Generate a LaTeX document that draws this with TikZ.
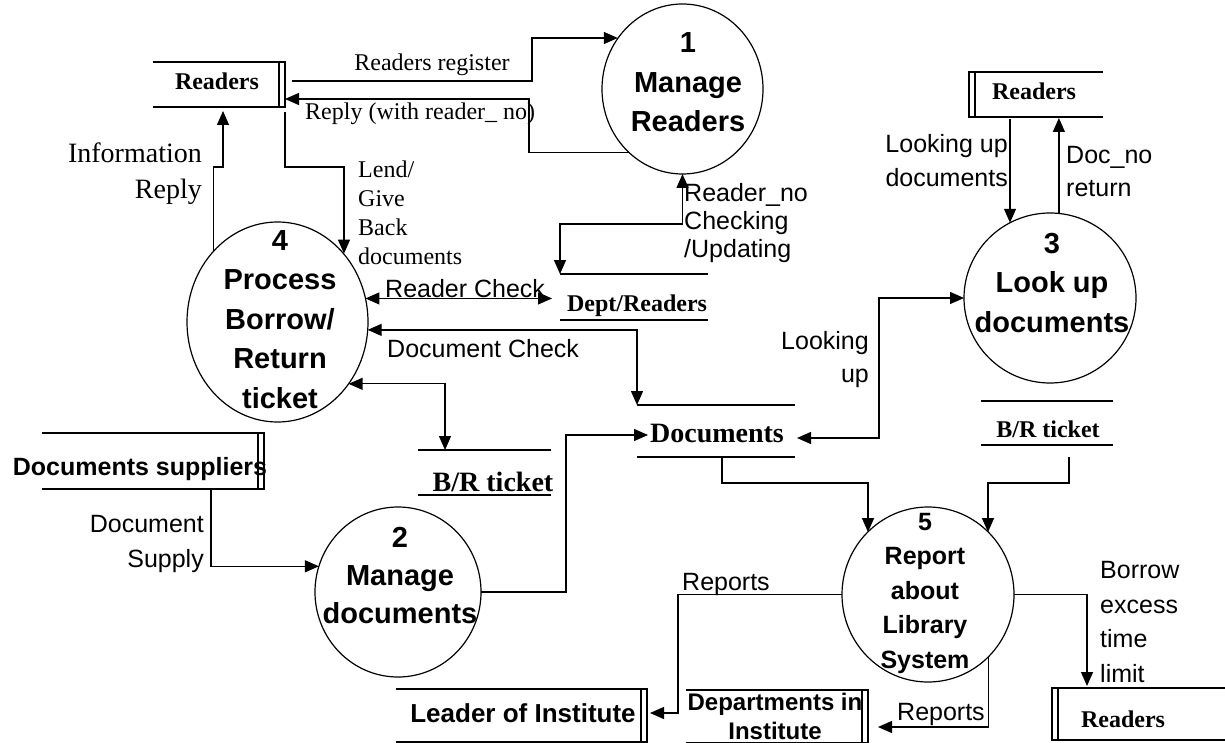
\documentclass[tikz,border=0pt]{standalone}
\usepackage{fontspec}
\setmainfont{Liberation Serif}
\setsansfont{Liberation Sans}
\usetikzlibrary{arrows.meta,shapes.geometric}

% data stores: open boxes with a double bar on one side
\newcommand\storeRbar[1]{%
  \draw[flow] (#1.north west) -- (#1.north east) -- (#1.south east) -- (#1.south west);
  \draw[flow] ([xshift=-6pt]#1.north east) -- ([xshift=-6pt]#1.south east);}
\newcommand\storeLbar[1]{%
  \draw[flow] (#1.north east) -- (#1.north west) -- (#1.south west) -- (#1.south east);
  \draw[flow] ([xshift=6pt]#1.north west) -- ([xshift=6pt]#1.south west);}
\newcommand\storeOpen[1]{%
  \draw[flow] (#1.north west) -- (#1.north east) (#1.south west) -- (#1.south east);}

\tikzset{
  flow/.style={line width=1.3pt},
  tip/.tip={Triangle[length=14pt,width=12pt]},
  arr/.style={flow, -tip},
  darr/.style={flow, tip-tip},
  proc/.style={ellipse, draw, line width=1.2pt, inner sep=0pt, outer sep=0pt},
  store/.style={rectangle, inner sep=0pt, outer sep=0pt},
  ptext/.style={inner sep=0pt, align=center, font=\sffamily\bfseries\fontsize{29}{39.5}\selectfont},
  serif/.style={inner sep=0pt, font=\fontsize{24}{29}\selectfont},
  sans/.style={inner sep=0pt, font=\sffamily\fontsize{25}{33}\selectfont},
  stname/.style={inner sep=0pt, font=\bfseries\fontsize{24}{29}\selectfont},
  stbig/.style={inner sep=0pt, font=\bfseries\fontsize{28}{32}\selectfont},
  stsans/.style={inner sep=0pt, align=center, font=\sffamily\bfseries\fontsize{25}{31}\selectfont},
}

\begin{document}
\begin{tikzpicture}[x=1pt, y=-1pt]
\useasboundingbox (0,0) rectangle (1225,743);

% ---------- processes ----------
\node[proc, minimum width=161, minimum height=170] (p1) at (682.5,89) {};
\node[proc, minimum width=181, minimum height=200] (p4) at (277.5,322) {};
\node[proc, minimum width=172, minimum height=170] (p3) at (1050,298) {};
\node[proc, minimum width=166, minimum height=170] (p2) at (398,592) {};
\node[proc, minimum width=172, minimum height=175] (p5) at (928,594.5) {};

% multi-line texts are placed by the baseline of their last line
\node[ptext, anchor=base] (p1t) at (688,132) {1\\Manage\\Readers};
\node[ptext, anchor=base] (p4t) at (280,408) {4\\Process\\Borrow/\\Return\\ticket};
\node[ptext, anchor=base] (p3t) at (1052,332) {3\\Look up\\documents};
\node[ptext, anchor=base, font=\sffamily\bfseries\fontsize{29}{38}\selectfont] (p2t) at (400,623) {2\\Manage\\documents};
\node[ptext, anchor=base, font=\sffamily\bfseries\fontsize{25}{34.5}\selectfont] (p5t) at (925,668) {5\\Report\\about\\Library\\System};

% ---------- data stores and external entities ----------
\node[store, minimum width=132, minimum height=45] (r1) at (219,84.5) {};
\node[store, minimum width=134, minimum height=45] (r2) at (1036,94.5) {};
\node[store, minimum width=173, minimum height=52] (r3) at (1138.5,714) {};
\node[store, minimum width=148, minimum height=46] (dr) at (634,297) {};
\node[store, minimum width=158, minimum height=52] (docs) at (716,431) {};
\node[store, minimum width=133, minimum height=45] (brl) at (484.5,472.5) {};
\node[store, minimum width=132, minimum height=44] (brr) at (1047,423) {};
\node[store, minimum width=222, minimum height=56] (ds) at (153,461) {};
\node[store, minimum width=251, minimum height=53] (ld) at (521.5,715.5) {};
\node[store, minimum width=182, minimum height=53] (dp) at (777,716.5) {};

\storeRbar{r1}
\storeLbar{r2}
\storeLbar{r3}
\storeOpen{dr}
\storeOpen{docs}
\storeOpen{brl}
\storeOpen{brr}
\storeRbar{ds}
\storeRbar{ld}
\storeRbar{dp}

\node[stname, anchor=base] (r1t) at (217,90) {Readers};
\node[stname, anchor=base] (r2t) at (1034,100) {Readers};
\node[stname, anchor=base] (r3t) at (1123,727) {Readers};
\node[stname, anchor=base] (drt) at (637,311) {Dept/Readers};
\node[stbig, anchor=base] (docst) at (717,442) {Documents};
\node[stbig, anchor=base] (brlt) at (493,491) {B/R ticket};
\node[stname, anchor=base] (brrt) at (1048,437) {B/R ticket};
\node[stsans, anchor=base] (dst) at (140,475) {Documents suppliers};
\node[stsans, anchor=base, font=\sffamily\bfseries\fontsize{26}{31}\selectfont] (ldt) at (523,722) {Leader of Institute};
\node[stsans, anchor=base, font=\sffamily\bfseries\fontsize{24}{29}\selectfont] (dpt) at (775,739) {Departments in\\Institute};

% ---------- bend points ----------
\coordinate (k1) at (532,38);
\coordinate (k5) at (344,167);
\coordinate (k6) at ([shift={(-8,0)}]dr.west);
\coordinate (k12) at ([shift={(-26,2)}]r2.south);
\coordinate (k13) at ([shift={(23,1)}]r2.south);
\coordinate (k14) at (868,483);
\coordinate (k15) at (988,483);

% ---------- data flows ----------
\draw[arr] ([shift={(7,-3.5)}]r1.east) -| (k1) -- (k1 -| p1.142);
\draw[arr] (p1.230) -| (529,99) -- ([shift={(0,14.5)}]r1.east);
\draw[darr] (p1.south) |- (560,224) -- (dr.north west);
\draw[arr] (p4.132) |- (223,167) -- ([shift={(4,4)}]r1.south);
\draw[arr] ([shift={(0,5)}]r1.south east) |- (k5) -- (k5 |- p4.46);
\draw[darr] (p4.15) -- (p4.15 -| k6);
\draw[darr] (p4.355) -| (docs.north west);
\draw[darr] (p4.319) -| ([shift={(27,0)}]brl.north west);
\draw[arr] ([shift={(58,0)}]ds.south) |- (p2.162);
\draw[arr] (p2.east) -| (566,435) -- ([shift={(11,4)}]docs.west);
\draw[darr] ([shift={(2,7)}]docs.east) -| (879,298) -- (p3.west);
\draw[arr] (k12) -- (k12 |- p3.118);
\draw[arr] (p3.84) -- (p3.84 |- k13);
\draw[arr] ([shift={(6,0)}]docs.south) |- (k14) -- (k14 |- p5.134);
\draw[arr] ([shift={(22,12)}]brr.south) |- (k15) -- (k15 |- p5.46);
\draw[arr] (p5.west) -| (678,713) -- ([shift={(3,-2.5)}]ld.east);
\draw[arr] (p5.314) |- ([shift={(10,10.5)}]dp.east);
\draw[arr] (p5.east) -| ([shift={(-51.5,-2)}]r3.north);

% ---------- flow labels ----------
\node[serif, anchor=base] (t1) at (432,71) {Readers register};
\node[serif, anchor=base west] (t2) at (305,120) {Reply (with reader\_ no)};
\node[serif, anchor=base east, align=right, font=\fontsize{28}{36}\selectfont] (t3) at (202,199) {Information\\Reply};
\node[serif, anchor=base west, align=left] (t4) at (358,265) {Lend/\\Give\\Back\\documents};
\node[sans, anchor=base west, align=left, font=\sffamily\fontsize{25}{28}\selectfont] (t5) at (684,258) {Reader\_no\\Checking\\/Updating};
\node[sans, anchor=base west] (t6) at (385,297) {Reader Check};
\node[sans, anchor=base west] (t7) at (387,357) {Document Check};
\node[sans, anchor=base east, align=right, font=\sffamily\fontsize{25}{34}\selectfont] (t8) at (1008,187) {Looking up\\documents};
\node[sans, anchor=base west, align=left] (t9) at (1066,197) {Doc\_no\\return};
\node[sans, anchor=base east, align=right] (t10) at (869,382) {Looking\\up};
\node[sans, anchor=base east, align=right, font=\sffamily\fontsize{25}{35}\selectfont] (t11) at (204,567) {Document\\Supply};
\node[sans, anchor=base west] (t12) at (682,590) {Reports};
\node[sans, anchor=base west] (t13) at (897,720) {Reports};
\node[sans, anchor=base west, align=left, font=\sffamily\fontsize{25}{34.5}\selectfont] (t14) at (1100,682) {Borrow\\excess\\time\\limit};

\end{tikzpicture}
\end{document}
